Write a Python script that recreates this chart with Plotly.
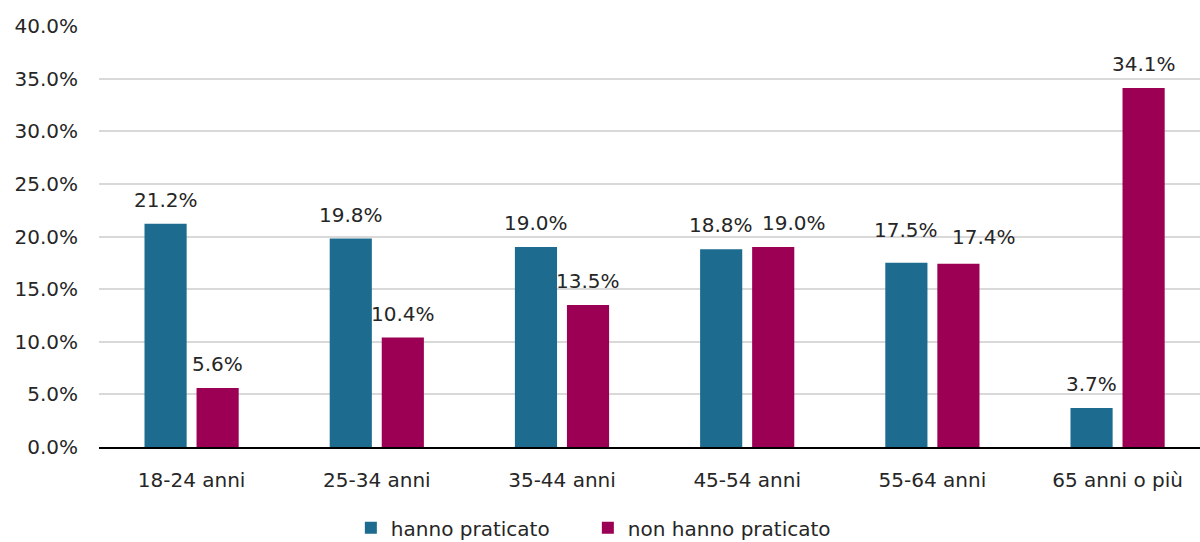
import plotly.graph_objects as go

# Age groups and shares (%) for the two groups
categories = ["18-24 anni", "25-34 anni", "35-44 anni", "45-54 anni", "55-64 anni", "65 anni o più"]
hanno_praticato = [21.2, 19.8, 19.0, 18.8, 17.5, 3.7]
non_hanno_praticato = [5.6, 10.4, 13.5, 19.0, 17.4, 34.1]
series_names = ["hanno praticato", "non hanno praticato"]
y_ticks = [0, 5, 10, 15, 20, 25, 30, 35, 40]

BLUE = "#1d6b8f"
MAGENTA = "#9b0055"
TEXT = "#262626"
FONT = "DejaVu Sans"

fig = go.Figure()
fig.add_trace(go.Bar(x=categories, y=hanno_praticato, name=series_names[0],
                     legendwidth=192,
                     marker=dict(color=BLUE, line=dict(width=0))))
fig.add_trace(go.Bar(x=categories, y=non_hanno_praticato, name=series_names[1],
                     marker=dict(color=MAGENTA, line=dict(width=0))))

# value labels above each bar (pixel nudges keep close labels apart)
nudge = {(1, 3): (21, 0), (1, 4): (26, 3), (0, 4): (0, 9)}
for s, values in enumerate([hanno_praticato, non_hanno_praticato]):
    for i, v in enumerate(values):
        dx, dy = nudge.get((s, i), (0, 0))
        fig.add_annotation(x=categories[i], y=v, text=f"{v:.1f}%",
                           xshift=(-26 if s == 0 else 26) + dx, yshift=24 + dy,
                           yanchor="middle", showarrow=False,
                           font=dict(family=FONT, size=20, color=TEXT))

fig.update_layout(
    width=1200, height=542,
    margin=dict(l=99, r=0, t=26, b=95, autoexpand=False),
    paper_bgcolor="white", plot_bgcolor="white",
    barmode="group", bargap=0.438, bargroupgap=0.19,
    font=dict(family=FONT, size=20, color=TEXT),
    legend=dict(orientation="h", x=0.449, xanchor="center", y=-0.192, yanchor="middle",
                font=dict(family=FONT, size=20, color=TEXT), itemclick=False),
    xaxis=dict(range=[-0.5, 5.445], showgrid=False, showline=True, linecolor="#000000",
               linewidth=2, ticks="", ticklabelstandoff=14,
               tickfont=dict(family=FONT, size=20, color=TEXT)),
    yaxis=dict(range=[0, 40], tickvals=y_ticks, ticktext=[f"{t:.1f}%" for t in y_ticks],
               showgrid=True, gridcolor="#d9d9d9", gridwidth=1.5, zeroline=False,
               ticklabelstandoff=20, tickfont=dict(family=FONT, size=20, color=TEXT)),
)

fig.write_html("out.html")
